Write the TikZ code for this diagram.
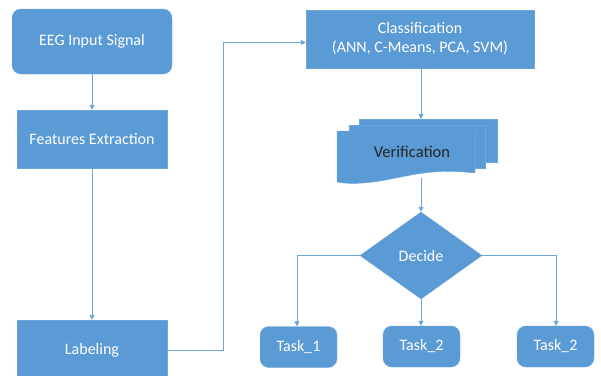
\documentclass[tikz,border=0pt]{standalone}
\usepackage{fontspec}
\setmainfont{Carlito}
\usetikzlibrary{shapes.geometric,arrows.meta}
\definecolor{boxblue}{HTML}{5B9BD5}
\definecolor{edgeblue}{HTML}{6FA6DA}
\definecolor{lineblue}{HTML}{6FA6DA}
\tikzset{
  procbox/.style={draw=edgeblue,fill=boxblue,text=white,minimum width=#1,inner sep=0pt,font=\fontsize{16}{19}\selectfont},
  roundbox/.style={procbox=#1,rounded corners=9pt},
  conn/.style={draw=lineblue,line width=0.8pt},
  arr/.style={conn,-{Triangle[length=5pt,width=5pt]}},
}
\begin{document}
\begin{tikzpicture}[x=1pt,y=-1pt]
\useasboundingbox[fill=white] (0,0) rectangle (601,375);
% left column
\node[roundbox=160pt,minimum height=65pt] (eeg) at (92,41.5) {EEG Input Signal};
\node[procbox=150pt,minimum height=58pt] (feat) at (92,139) {Features Extraction};
\node[procbox=150pt,minimum height=60pt] (lab) at (92,350) {Labeling};
% classification
\node[procbox=228pt,minimum height=58pt,align=center] (cls) at (420,39) {Classification\\(ANN, C-Means, PCA, SVM)};
% verification (multidocument)
\path[draw=edgeblue,fill=boxblue] (359,119) -- (497,119) -- (497,162) -- (485,162) -- (485,125) -- (359,125) -- cycle;
\path[draw=edgeblue,fill=boxblue] (349,125) -- (485,125) -- (485,168) -- (475,168) -- (475,131) -- (349,131) -- cycle;
\path[draw=edgeblue,fill=boxblue] (337,131) -- (475,131) -- (475,173) .. controls (430,168) and (410,176) .. (380,181) .. controls (360,184) and (348,184) .. (337,182) -- cycle;
\node[inner sep=0pt,font=\fontsize{16.5}{19}\selectfont,text=black!85] (ver) at (412,152) {Verification};
\coordinate (vtop) at (421,119);
\coordinate (vbot) at (421,178);
% decide
\node[diamond,draw=edgeblue,fill=boxblue,text=white,inner sep=0pt,minimum width=122pt,minimum height=87pt,font=\fontsize{16}{19}\selectfont] (dec) at (421,255.5) {Decide};
% tasks
\node[roundbox=77pt,minimum height=41pt] (t1) at (298.5,347) {Task\_1};
\node[roundbox=77pt,minimum height=41pt] (t2) at (421.5,346.5) {Task\_2};
\node[roundbox=77pt,minimum height=41pt] (t3) at (555.5,346.5) {Task\_2};
% connectors
\draw[arr] (eeg) -- (feat);
\draw[arr] (feat) -- (lab);
\draw[arr] (lab.east) -- (223,350) -- (223,42.5) -- (cls.west |- 0,42.5);
\draw[arr] (cls.south -| vtop) -- (vtop);
\draw[arr] (vbot) -- (dec.north);
\draw[arr] (dec.west) -- (297,255.5) -- (t1.north -| 297,0);
\draw[arr] (dec.south) -- (t2.north -| dec.south);
\draw[arr] (dec.east) -- (556,255.5) -- (t3.north -| 556,0);
\end{tikzpicture}
\end{document}
